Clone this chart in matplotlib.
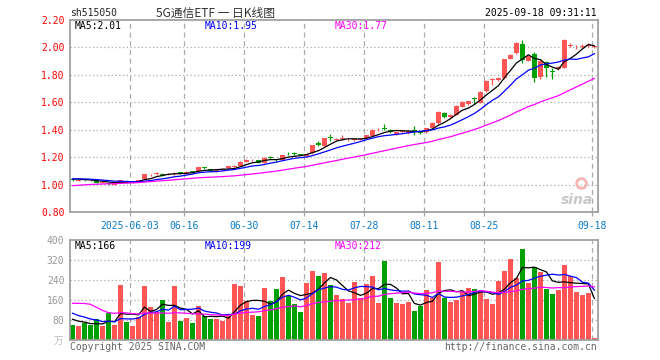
import matplotlib
matplotlib.use('Agg')
import matplotlib.pyplot as plt
import numpy as np
import pandas as pd

plt.rcParams['font.family'] = ['DejaVu Sans Mono', 'Noto Sans CJK SC']

# x axis: 88 trading days, 2025-05-19 .. 2025-09-18
tick_pos = [10, 19, 29, 39, 49, 59, 69, 87]
tick_labels = ['2025-06-03', '06-16', '06-30', '07-14', '07-28', '08-11', '08-25', '09-18']

opens = [1.038, 1.028, 1.034, 1.032, 1.026, 1.012, 1.010, 1.000, 1.010, 1.028,
         1.018, 1.022, 1.040, 1.068, 1.074, 1.080, 1.072, 1.076, 1.086, 1.082,
         1.094, 1.098, 1.122, 1.110, 1.100, 1.108, 1.118, 1.130, 1.138, 1.168,
         1.176, 1.178, 1.160, 1.198, 1.184, 1.180, 1.224, 1.226, 1.222, 1.210,
         1.228, 1.304, 1.282, 1.344, 1.328, 1.330, 1.322, 1.326, 1.328, 1.338,
         1.356, 1.396, 1.412, 1.398, 1.370, 1.384, 1.378, 1.396, 1.382, 1.380,
         1.416, 1.448, 1.522, 1.490, 1.508, 1.568, 1.584, 1.630, 1.598, 1.684,
         1.764, 1.762, 1.774, 1.918, 1.956, 2.025, 1.902, 1.951, 1.784, 1.896,
         1.830, 1.840, 1.852, 2.012, 2.000, 2.006, 2.008, 2.002]
highs = [1.042, 1.036, 1.036, 1.034, 1.028, 1.018, 1.012, 1.010, 1.036, 1.030,
         1.022, 1.035, 1.076, 1.078, 1.092, 1.084, 1.082, 1.092, 1.090, 1.098,
         1.098, 1.130, 1.130, 1.112, 1.108, 1.116, 1.134, 1.142, 1.170, 1.184,
         1.184, 1.180, 1.198, 1.206, 1.186, 1.218, 1.236, 1.240, 1.226, 1.224,
         1.290, 1.318, 1.340, 1.366, 1.338, 1.365, 1.334, 1.336, 1.338, 1.362,
         1.402, 1.410, 1.444, 1.404, 1.388, 1.392, 1.400, 1.428, 1.386, 1.416,
         1.454, 1.536, 1.528, 1.514, 1.578, 1.606, 1.612, 1.640, 1.682, 1.760,
         1.780, 1.786, 1.916, 1.950, 2.038, 2.055, 1.938, 1.968, 1.910, 1.900,
         1.848, 1.865, 2.058, 2.030, 2.018, 2.022, 2.030, 2.014]
lows = [1.028, 1.026, 1.028, 1.025, 1.010, 1.008, 0.995, 0.998, 1.008, 1.015,
        1.014, 1.020, 1.038, 1.062, 1.072, 1.062, 1.068, 1.072, 1.078, 1.080,
        1.086, 1.096, 1.114, 1.098, 1.094, 1.104, 1.116, 1.126, 1.134, 1.164,
        1.172, 1.156, 1.156, 1.190, 1.174, 1.176, 1.214, 1.216, 1.212, 1.206,
        1.226, 1.282, 1.276, 1.318, 1.322, 1.326, 1.316, 1.320, 1.322, 1.334,
        1.352, 1.390, 1.398, 1.376, 1.364, 1.374, 1.372, 1.360, 1.372, 1.376,
        1.412, 1.444, 1.488, 1.482, 1.504, 1.563, 1.578, 1.590, 1.594, 1.678,
        1.723, 1.756, 1.770, 1.914, 1.950, 1.888, 1.898, 1.746, 1.770, 1.785,
        1.770, 1.834, 1.848, 2.002, 1.985, 1.998, 2.002, 1.996]
closes = [1.035, 1.033, 1.032, 1.030, 1.012, 1.016, 1.004, 1.008, 1.034, 1.018,
          1.020, 1.032, 1.074, 1.072, 1.088, 1.066, 1.076, 1.088, 1.084, 1.094,
          1.092, 1.126, 1.120, 1.100, 1.104, 1.112, 1.132, 1.138, 1.166, 1.180,
          1.180, 1.160, 1.194, 1.196, 1.180, 1.214, 1.220, 1.222, 1.218, 1.220,
          1.286, 1.290, 1.336, 1.340, 1.332, 1.336, 1.328, 1.332, 1.334, 1.358,
          1.398, 1.400, 1.408, 1.382, 1.384, 1.386, 1.394, 1.392, 1.378, 1.412,
          1.450, 1.532, 1.496, 1.510, 1.574, 1.600, 1.608, 1.626, 1.678, 1.756,
          1.768, 1.780, 1.912, 1.942, 2.032, 1.911, 1.934, 1.778, 1.900, 1.850,
          1.822, 1.858, 2.052, 2.018, 2.005, 2.012, 2.020, 2.006]
# volume, unit 万
volumes = [60, 56, 67, 60, 83, 56, 109, 60, 220, 73,
           56, 93, 216, 132, 113, 160, 72, 216, 77, 88,
           68, 136, 96, 85, 83, 77, 96, 224, 216, 156,
           100, 96, 208, 157, 204, 252, 176, 144, 112, 229,
           276, 256, 269, 220, 180, 164, 149, 232, 167, 224,
           256, 149, 316, 168, 149, 144, 153, 116, 137, 200,
           169, 313, 169, 153, 160, 193, 209, 204, 193, 164,
           144, 237, 277, 324, 249, 364, 229, 292, 273, 204,
           185, 200, 301, 257, 193, 180, 190, 9]

# days before the visible window, only needed so the moving averages start right
pre_closes = [0.95, 0.94, 0.95, 0.96, 0.96, 0.97, 0.96, 0.97, 0.97, 0.96,
              0.97, 0.97, 0.98, 0.97, 0.98, 0.98, 0.97, 0.98, 0.99, 0.98,
              1.02, 1.04, 1.05, 1.04, 1.05, 1.04, 1.05, 1.04, 1.04]
pre_volumes = [70, 80, 160, 450, 420, 380, 140, 130, 120, 140,
               125, 110, 130, 120, 135, 125, 130, 115, 130, 130,
               150, 125, 140, 120, 120, 95, 85, 90, 85]

RED = '#ff5555'
GREEN = '#00a000'
GRAY = '#a0a0a0'

n = len(closes)
x = np.arange(n)
o = np.array(opens)
c = np.array(closes)
up = c >= o
cols = np.where(up, RED, GREEN)

all_c = pd.Series(pre_closes + closes)
all_v = pd.Series(pre_volumes + volumes)
ma = {k: all_c.rolling(k).mean().values[-n:] for k in (5, 10, 30)}
vma = {k: all_v.rolling(k).mean().values[-n:] for k in (5, 10, 30)}

fig = plt.figure(figsize=(6.6, 3.6), dpi=100)
W, H = 660.0, 360.0
ax1 = fig.add_axes([70 / W, 1 - 212 / H, 528 / W, 192 / H])
ax2 = fig.add_axes([70 / W, 1 - 340 / H, 528 / W, 100 / H])

grid_x = [p - 0.4 for p in tick_pos]
for ax in (ax1, ax2):
    ax.set_xlim(-0.42, 87.6)
    for s in ax.spines.values():
        s.set_color(GRAY)
        s.set_linewidth(1.3)
    for gx in grid_x:
        ax.axvline(gx, color='#aaaaaa', lw=0.9, dashes=(4, 3), zorder=0)
    ax.tick_params(axis='y', length=0, labelsize=7, pad=4)
    ax.tick_params(axis='x', length=3, color=GRAY)

# price panel
ax1.set_ylim(0.8, 2.2)
yt = [0.8, 1.0, 1.2, 1.4, 1.6, 1.8, 2.0, 2.2]
ax1.set_yticks(yt)
ax1.set_yticklabels(['%.2f' % v for v in yt], color='#ff0000')
for v in yt[1:-1]:
    ax1.axhline(v, color='#aaaaaa', lw=0.9, dashes=(1, 2), zorder=0)
ax1.set_xticks(grid_x)
ax1.set_xticklabels(tick_labels, color='#0a7ac8', fontsize=7)

ax1.vlines(x, lows, highs, colors=cols, lw=0.9, zorder=2)
body = np.maximum(np.abs(c - o), 0.005)
ax1.bar(x, body, bottom=np.minimum(o, c), width=0.82, color=cols, lw=0, zorder=2)
ax1.plot(x, ma[5], color='black', lw=0.9, zorder=3)
ax1.plot(x, ma[10], color='#0000ff', lw=0.9, zorder=3)
ax1.plot(x, ma[30], color='#ff00ff', lw=0.9, zorder=3)

# sina watermark: the eye ring
ax1.plot([0.968], [0.15], transform=ax1.transAxes, marker='o', ms=7, mfc='none',
         mec='#f5b5b5', mew=2, zorder=1)

# volume panel
ax2.set_ylim(0, 400)
vt = [80, 160, 240, 320, 400]
ax2.set_yticks(vt)
ax2.set_yticklabels([str(v) for v in vt], color='#999999')
for v in vt[:-1]:
    ax2.axhline(v, color='#aaaaaa', lw=0.9, dashes=(1, 2), zorder=0)
ax2.set_xticks(grid_x)
ax2.set_xticklabels([])
ax2.tick_params(axis='x', length=0)
ax2.bar(x, volumes, width=0.82, color=cols, lw=0, zorder=2)
ax2.plot(x, vma[5], color='black', lw=0.9, zorder=3)
ax2.plot(x, vma[10], color='#0000ff', lw=0.9, zorder=3)
ax2.plot(x, vma[30], color='#ff00ff', lw=0.9, zorder=3)


def ftext(px, py, s, **kw):
    fig.text(px / W, 1 - py / H, s, va='center', **kw)


ftext(70, 13, 'sh515050', fontsize=7, color='#222222')
ftext(216, 13, '5G通信ETF 一 日K线图', fontsize=8.5, color='#333333', ha='center',
      family=['Noto Sans CJK SC', 'DejaVu Sans'])
ftext(597, 13, '2025-09-18 09:31:11', fontsize=7, color='black', ha='right')

ftext(75, 26, 'MA5:%.2f' % ma[5][-1], fontsize=7, color='black')
ftext(205, 26, 'MA10:%.2f' % ma[10][-1], fontsize=7, color='#0000ff')
ftext(335, 26, 'MA30:%.2f' % ma[30][-1], fontsize=7, color='#ff00ff')

ftext(75, 246, 'MA5:%d' % round(vma[5][-1]), fontsize=7, color='black')
ftext(205, 246, 'MA10:%d' % round(vma[10][-1]), fontsize=7, color='#0000ff')
ftext(335, 246, 'MA30:%d' % round(vma[30][-1]), fontsize=7, color='#ff00ff')

ftext(63, 341, '万', fontsize=7, color='#bbbbbb', ha='right',
      family=['Noto Sans CJK SC', 'DejaVu Sans'])
ftext(70, 347, 'Copyright 2025 SINA.COM', fontsize=7, color='#666666')
ftext(597, 347, 'http://finance.sina.com.cn', fontsize=7, color='#666666', ha='right')

# sina watermark text
ftext(577, 200, 'sina', fontsize=10, color='#c8c8c8', ha='center', style='italic',
      weight='bold', family='DejaVu Sans')

fig.savefig('out.png', dpi=100)
